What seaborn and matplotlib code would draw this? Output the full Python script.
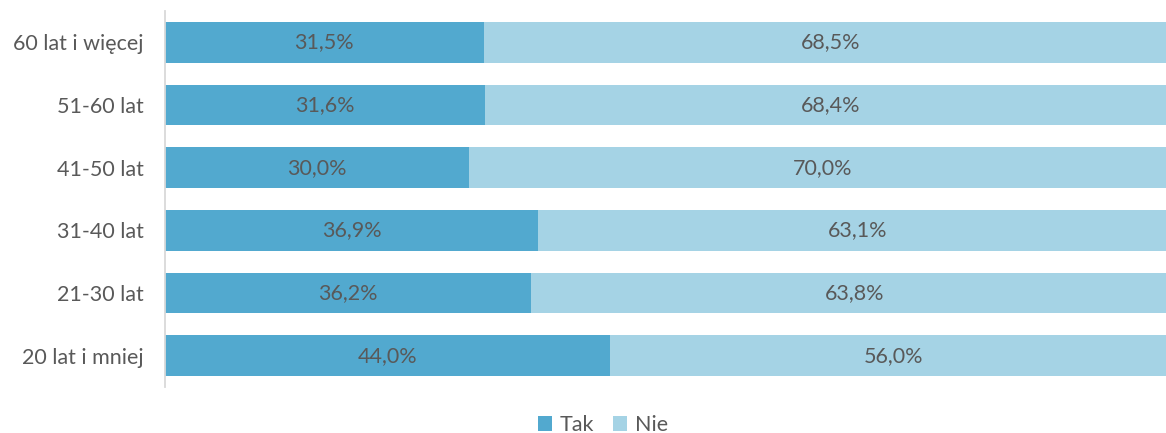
import matplotlib
matplotlib.use("Agg")
import matplotlib.pyplot as plt
import seaborn as sns
import pandas as pd
from matplotlib.patches import Patch

categories = ["60 lat i więcej", "51-60 lat", "41-50 lat", "31-40 lat", "21-30 lat", "20 lat i mniej"]
tak = [31.5, 31.6, 30.0, 36.9, 36.2, 44.0]
nie = [68.5, 68.4, 70.0, 63.1, 63.8, 56.0]
series_names = ["Tak", "Nie"]
colors = ["#52A9CF", "#A5D3E5"]
text_color = "#595959"

sns.set_theme(style="white")
plt.rcParams['font.family'] = ['Lato', 'DejaVu Sans']

df = pd.DataFrame({"cat": categories, "Tak": tak, "Nie": nie})
df["total"] = df["Tak"] + df["Nie"]

fig = plt.figure(figsize=(11.66, 4.33), dpi=100)
ax = fig.add_axes([165 / 1166, 46 / 433, 1012 / 1166, 376 / 433])

sns.barplot(data=df, y="cat", x="total", color=colors[1], orient="h", width=0.65,
            saturation=1, ax=ax, linewidth=0)
sns.barplot(data=df, y="cat", x="Tak", color=colors[0], orient="h", width=0.65,
            saturation=1, ax=ax, linewidth=0)

fs = 15.5
for i, (t, n) in enumerate(zip(tak, nie)):
    ax.text(t / 2, i, f"{t:.1f}%".replace(".", ","), ha="center", va="center",
            fontsize=fs, color=text_color)
    ax.text(t + n / 2, i, f"{n:.1f}%".replace(".", ","), ha="center", va="center",
            fontsize=fs, color=text_color)

ax.set_xlim(0, 100)
ax.set_ylim(5.5, -0.5)
ax.set_xlabel("")
ax.set_ylabel("")
ax.set_xticks([])
ax.tick_params(axis="y", length=0, pad=15.5, labelsize=fs, labelcolor=text_color)
for s in ["top", "right", "bottom"]:
    ax.spines[s].set_visible(False)
ax.spines["left"].set_color("#D9D9D9")
ax.spines["left"].set_linewidth(1.3)

handles = [Patch(facecolor=c, edgecolor="none", label=l) for c, l in zip(colors, series_names)]
fig.legend(handles=handles, loc="center", bbox_to_anchor=(603 / 1166, 1 - 425 / 433),
           ncol=2, frameon=False, fontsize=fs, labelcolor=text_color,
           handlelength=0.65, handleheight=0.65, handletextpad=0.35, columnspacing=0.9)

fig.savefig("out.png", dpi=100)
